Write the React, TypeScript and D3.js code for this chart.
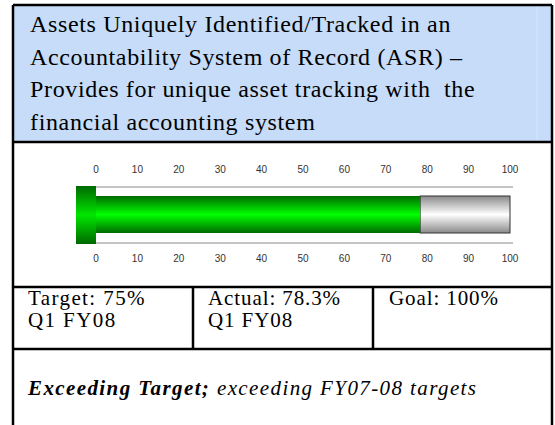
import React from 'react';
import * as d3 from 'd3';

// header text, one entry per line as wrapped in the picture
const titleLines = [
  'Assets Uniquely Identified/Tracked in an',
  'Accountability System of Record (ASR) \u2013',
  'Provides for unique asset tracking with  the',
  'financial accounting system',
];

const tickValues = [0, 10, 20, 30, 40, 50, 60, 70, 80, 90, 100];
const actualValue = 78.3;
const domainMax = 100;

const cellLines = [
  ['Target: 75%', 'Q1 FY08'],
  ['Actual: 78.3%', 'Q1 FY08'],
  ['Goal: 100%'],
];

const noteBold = 'Exceeding Target;';
const noteRest = ' exceeding FY07-08 targets';

const W = 555;
const H = 425;
const serif = '"Liberation Serif", "DejaVu Serif", serif';
const sans = '"Liberation Sans", Arial, sans-serif';

export default function App() {
  const x = d3.scaleLinear().domain([0, domainMax]).range([96, 510]);

  const barTop = 196;
  const barBot = 233;
  const trackTop = 187;
  const trackBot = 243;

  const colX = [13, 193, 373, 552];

  return (
    <svg
      width={W}
      height={H}
      style={{ position: 'absolute', left: 0, top: 0, background: '#fff' }}
    >
      <defs>
        <linearGradient id="greenGrad" x1="0" y1="0" x2="0" y2="1">
          <stop offset="0" stopColor="#006a00" />
          <stop offset="0.5" stopColor="#00ff00" />
          <stop offset="1" stopColor="#006a00" />
        </linearGradient>
        <linearGradient id="capGrad" x1="0" y1="0" x2="0" y2="1">
          <stop offset="0" stopColor="#006800" />
          <stop offset="0.5" stopColor="#00e600" />
          <stop offset="1" stopColor="#006800" />
        </linearGradient>
        <linearGradient id="grayGrad" x1="0" y1="0" x2="0" y2="1">
          <stop offset="0" stopColor="#8a8a8a" />
          <stop offset="0.5" stopColor="#ffffff" />
          <stop offset="1" stopColor="#8a8a8a" />
        </linearGradient>
      </defs>

      {/* header */}
      <rect x={13} y={5} width={539} height={137} fill="#c6dcf9" />
      <line x1={537} y1={5} x2={537} y2={142} stroke="#d6e6fb" strokeWidth={1} />
      {titleLines.map((t, i) => (
        <text
          key={i}
          x={30}
          y={32 + i * 32.5}
          fontFamily={serif}
          fontSize={24}
          letterSpacing={0.65}
          fill="#000"
          style={{ whiteSpace: 'pre' }}
        >
          {t}
        </text>
      ))}

      {/* gauge */}
      {tickValues.map((v) => (
        <g key={v} fontFamily={sans} fontSize={10} fill="#333" textAnchor="middle">
          <text x={x(v)} y={173}>{v}</text>
          <text x={x(v)} y={262}>{v}</text>
        </g>
      ))}
      <line x1={x(0)} y1={trackTop} x2={x(domainMax) + 3} y2={trackTop} stroke="#c4c4c4" strokeWidth={2} />
      <line x1={x(0)} y1={trackBot} x2={x(domainMax) + 3} y2={trackBot} stroke="#c4c4c4" strokeWidth={2} />
      <rect
        x={x(actualValue)}
        y={barTop}
        width={x(domainMax) - x(actualValue)}
        height={barBot - barTop}
        fill="url(#grayGrad)"
        stroke="#333"
        strokeWidth={1}
      />
      <rect
        x={x(0)}
        y={barTop}
        width={x(actualValue) - x(0)}
        height={barBot - barTop}
        fill="url(#greenGrad)"
      />
      <rect x={76} y={trackTop - 1} width={x(0) - 76} height={trackBot - trackTop + 2} fill="url(#capGrad)" />

      {/* cells */}
      {cellLines.map((lines, i) => (
        <g key={i}>
          {lines.map((t, j) => (
            <text
              key={j}
              x={colX[i] + (i === 2 ? 16 : 15)}
              y={305 + j * 22}
              fontFamily={serif}
              fontSize={21}
              letterSpacing={i === 0 ? 1.4 : 0.9}
              fill="#000"
            >
              {t}
            </text>
          ))}
        </g>
      ))}

      <text x={28} y={395} fontFamily={serif} fontSize={21} fontStyle="italic" letterSpacing={1.4} fill="#000" style={{ whiteSpace: 'pre' }}>
        <tspan fontWeight="bold">{noteBold}</tspan>
        <tspan>{noteRest}</tspan>
      </text>

      {/* grid lines */}
      <g stroke="#000" strokeWidth={2.5}>
        <line x1={13} y1={5} x2={552} y2={5} />
        <line x1={13} y1={142} x2={552} y2={142} />
        <line x1={13} y1={287} x2={552} y2={287} />
        <line x1={13} y1={349} x2={552} y2={349} />
        <line x1={13} y1={5} x2={13} y2={H} />
        <line x1={552} y1={5} x2={552} y2={H} />
        <line x1={193} y1={287} x2={193} y2={349} />
        <line x1={373} y1={287} x2={373} y2={349} />
      </g>
    </svg>
  );
}
